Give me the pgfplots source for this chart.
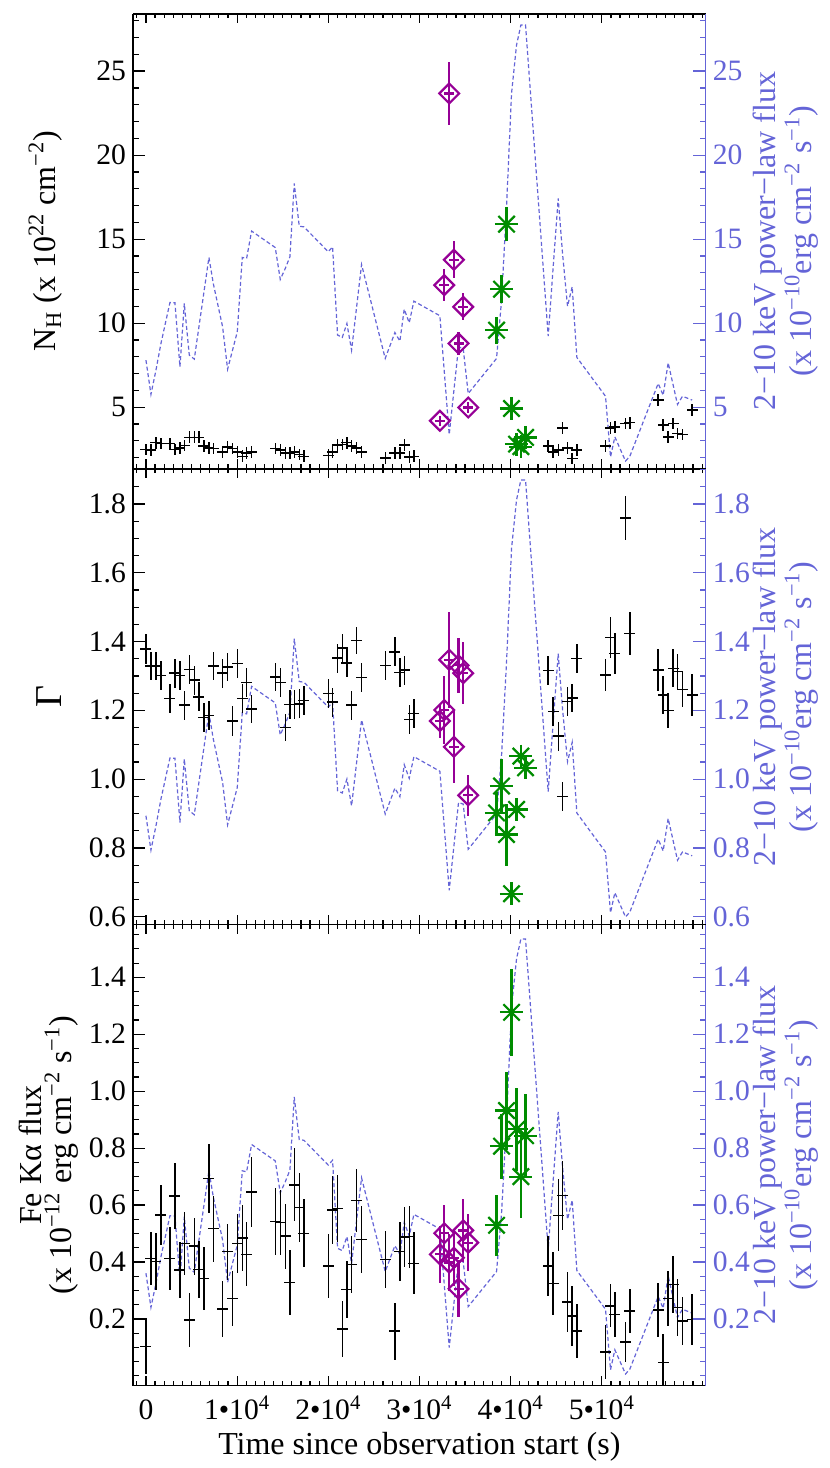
\documentclass[border=0pt]{standalone}
\usepackage{fontspec}
\setmainfont{Liberation Serif}
\usepackage{pgfplots}
\pgfplotsset{compat=1.18}
\usepackage{pgfplotstable}

\definecolor{fluxblue}{RGB}{100,100,215}
\definecolor{purp}{RGB}{150,0,150}
\definecolor{grn}{RGB}{0,140,0}

\newcommand{\tickfont}{\fontsize{14.8}{17}\selectfont}
\newcommand{\labfont}{\fontsize{16}{15}\selectfont}

% ---------------- data ----------------
\pgfplotstableread{
t f
0 7.80
548 5.76
1097 7.20
1645 8.79
2632 11.23
3180 11.21
3729 7.40
4204 11.17
4752 8.10
5300 7.86
6908 13.91
7384 12.36
8407 9.78
8955 7.26
10015 9.48
10564 13.91
11039 13.85
11587 15.48
14182 14.50
14730 12.60
15278 13.25
15790 13.95
16265 18.31
16813 15.77
17325 15.73
19993 14.25
20468 14.54
21017 9.29
21528 9.15
22040 9.98
22552 8.39
23648 13.49
26243 7.90
27303 9.44
27852 8.93
28327 10.83
28875 10.02
29387 11.31
32238 10.44
33261 3.37
34284 8.59
34796 8.49
35344 5.81
38453 7.90
39001 11.37
39548 16.92
40096 23.67
40644 26.55
41121 27.74
41632 27.74
44117 9.23
44665 13.35
45214 17.42
45689 14.15
46237 11.01
46749 12.16
47261 7.96
50404 5.65
50953 2.04
51428 3.23
52598 1.79
53073 2.08
56180 6.41
56726 5.71
57275 7.64
58298 5.16
58846 5.65
59906 5.42
}\fluxtab

\pgfplotstableread{
t y
0 2.48
548 2.44
1097 2.88
1645 2.84
2632 2.84
3180 2.48
3729 2.58
4204 2.72
4752 3.21
5300 3.21
5812 3.21
6360 2.68
6908 2.58
7384 2.54
8407 2.34
8955 2.64
9503 2.54
10015 2.34
10564 2.08
11039 2.28
11587 2.34
14182 2.54
14730 2.44
15278 2.28
15790 2.28
16265 2.34
16813 2.18
17325 2.08
19993 2.14
20468 2.32
21017 2.74
21528 2.78
22040 2.88
22552 2.68
23100 2.58
23648 2.34
26243 1.98
27303 2.28
27852 2.28
28327 2.74
28875 2.04
29387 2.08
44117 2.68
44665 2.34
45214 2.44
45689 3.77
46237 2.58
46749 1.94
47261 2.44
50404 2.70
50953 3.77
51428 3.83
52598 4.03
53073 4.07
56180 5.42
56726 3.93
57275 3.23
57823 4.03
58298 3.43
58846 3.37
59906 4.82
}\nhblack

\pgfplotstableread{
t y ey
32238 4.19 0.3
32713 12.26 0.96
33261 23.67 1.9
33773 13.77 1.1
34284 8.79 0.7
34796 10.97 0.8
35344 4.98 0.3
}\nhpurp

\pgfplotstableread{
t y ey
38453 9.58 0.8
39001 12.02 0.85
39548 15.89 1.0
40096 4.92 0.3
40644 2.80 0.3
41121 2.65 0.3
41632 3.20 0.3
}\nhgreen

\pgfplotstableread{
t y ey
0 1.378 .043
548 1.329 .042
1097 1.329 .042
1645 1.302 .042
2632 1.235 .042
3180 1.308 .042
3729 1.302 .042
4204 1.215 .042
4752 1.319 .042
5300 1.288 .042
5812 1.239 .042
6360 1.180 .042
6908 1.185 .042
7384 1.329 .042
8407 1.308 .042
8955 1.326 .042
9503 1.169 .044
10015 1.336 .042
10564 1.235 .042
11039 1.281 .042
11587 1.204 .042
14182 1.297 .042
14730 1.281 .042
15278 1.150 .040
15790 1.217 .042
16265 1.217 .042
16813 1.219 .042
17325 1.229 .042
19993 1.249 .042
20468 1.224 .042
21017 1.352 .042
21528 1.381 .042
22040 1.338 .042
22552 1.215 .042
23100 1.403 .040
23648 1.295 .042
26243 1.330 .042
27303 1.370 .042
27852 1.310 .042
28327 1.317 .042
28875 1.173 .042
29387 1.190 .042
44117 1.315 .042
44665 1.196 .042
45214 1.125 .042
45689 0.950 .042
46237 1.225 .042
46749 1.236 .042
47261 1.350 .042
50404 1.303 .047
50953 1.412 .060
51428 1.365 .060
52598 1.759 .063
53073 1.423 .062
56180 1.317 .060
56726 1.245 .055
57275 1.200 .050
57823 1.322 .055
58298 1.313 .050
58846 1.261 .050
59906 1.245 .060
}\gamblack

\pgfplotstableread{
t y ey
32238 1.169 0.05
32713 1.201 0.10
33261 1.347 0.14
33773 1.094 0.105
34284 1.331 0.08
34796 1.308 0.09
35344 0.953 0.06
}\gampurp

\pgfplotstableread{
t y ey
38453 0.902 0.06
39001 0.980 0.08
39548 0.839 0.09
40096 0.667 0.03
40644 0.912 0.03
41121 1.067 0.03
41632 1.033 0.03
}\gamgreen

\pgfplotstableread{
t y ey
0 0.104 0.098
548 0.413 0.093
1097 0.401 0.100
1645 0.565 0.106
2632 0.413 0.111
3180 0.632 0.117
3729 0.372 0.097
4204 0.465 0.110
4752 0.196 0.095
5300 0.456 0.100
5812 0.374 0.100
6360 0.342 0.111
6908 0.694 0.121
7384 0.517 0.116
8407 0.235 0.100
8955 0.436 0.099
9503 0.272 0.097
10015 0.465 0.103
10564 0.485 0.116
11039 0.427 0.113
11587 0.646 0.122
14182 0.542 0.117
14730 0.538 0.114
15278 0.491 0.114
15790 0.327 0.114
16265 0.671 0.128
16813 0.591 0.121
17325 0.501 0.120
19993 0.386 0.114
20468 0.583 0.120
21017 0.588 0.116
21528 0.165 0.099
22040 0.304 0.100
22552 0.392 0.100
23100 0.617 0.110
23648 0.480 0.117
26243 0.409 0.100
27303 0.157 0.100
27852 0.436 0.103
28327 0.488 0.106
28875 0.489 0.109
29387 0.395 0.109
44117 0.386 0.104
44665 0.324 0.110
45214 0.564 0.126
45689 0.634 0.120
46237 0.260 0.105
46749 0.211 0.105
47261 0.158 0.095
50404 0.084 0.094
50953 0.246 0.076
51428 0.216 0.080
52598 0.119 0.070
53073 0.228 0.076
56180 0.232 0.095
56726 0.047 0.100
57275 0.271 0.097
57823 0.322 0.100
58298 0.240 0.100
58846 0.193 0.085
59906 0.197 0.089
}\feblack

\pgfplotstableread{
t y ey
32238 0.427 0.10
32713 0.501 0.10
33261 0.398 0.10
33773 0.415 0.10
34284 0.306 0.10
34796 0.511 0.11
35344 0.468 0.10
}\fepurp

\pgfplotstableread{
t y ey
38453 0.529 0.108
39001 0.807 0.114
39548 0.932 0.137
40096 1.277 0.154
40644 0.866 0.146
41121 0.700 0.145
41632 0.844 0.146
}\fegreen

% ---------------- styles ----------------
\pgfplotsset{
  common/.style={scale only axis, width=286.5pt, xmin=-1425, xmax=61400,
    scaled x ticks=false, scaled y ticks=false,
    /pgf/number format/assume math mode=true,
    tick label style={font=\tickfont}, label style={font=\labfont}},
  xbox/.style={common, axis x line*=box, axis y line*=left, ytick=\empty,
    xtick={0,10000,20000,30000,40000,50000}, minor xtick={-1000,0,...,61000},
    tick align=inside, major tick length=4.7pt, minor tick length=2.2pt,
    axis line style={line width=0.7pt, black}, tick style={black, line width=0.6pt}},
  yleft/.style={common, axis x line=none, axis y line*=left, xtick=\empty,
    tick align=inside, major tick length=6.2pt, minor tick length=2.9pt,
    axis line style={line width=0.7pt, black}, tick style={black, line width=0.6pt},
    ylabel style={at={(axis description cs:#1,0.5)}, anchor=south, inner sep=0pt, align=center}},
  yright/.style={common, axis x line=none, axis y line*=right, xtick=\empty,
    tick align=inside, major tick length=6.2pt, minor tick length=3pt,
    axis line style={line width=0.7pt, fluxblue}, tick style={fluxblue, line width=0.6pt},
    yticklabel style={text=fluxblue},
    ylabel style={text=fluxblue, at={(axis description cs:1.082,0.5)}, anchor=north, inner sep=0pt, align=center},
    ylabel={2−10 keV power−law flux\\(x 10\textsuperscript{−10}erg cm\textsuperscript{−2} s\textsuperscript{−1})}},
  fluxax/.style={common, hide axis, ymin=1.33, ymax=28.4},
  fluxline/.style={fluxblue, line width=0.6pt, dash pattern=on 2pt off 1.3pt, mark=none},
  blk/.style={only marks, black, mark=*, mark size=0.1pt, mark options={draw=none, fill=none},
    error bars/.cd, x dir=both, x fixed=600,
    y dir=both, y explicit, error mark=none, error bar style={draw=black, line width=0.7pt}},
  prp/.style={only marks, purp, mark=square, mark size=3.5pt,
    mark options={rotate=45, line width=1.1pt, draw=purp, fill=none},
    error bars/.cd, x dir=both, x fixed=550, y dir=both, y explicit, error mark=none,
    error bar style={purp, line width=1.1pt}},
  grnA/.style={only marks, grn, mark=+, mark size=5.8pt, mark options={line width=1.1pt, draw=grn},
    error bars/.cd, x dir=both, x fixed=550, y dir=both, y explicit, error mark=none,
    error bar style={grn, line width=1.1pt}},
  grnB/.style={only marks, grn, mark=x, mark size=5.8pt, mark options={line width=1.1pt, draw=grn}},
}

\begin{document}
\begin{tikzpicture}
\path (0,0) rectangle (415pt,734pt);

% ================= TOP PANEL =================
\begin{axis}[fluxax, at={(66.5pt,727pt)}, anchor=north west, height=227.5pt]
\addplot[fluxline] table[x=t,y=f]{\fluxtab};
\end{axis}
\begin{axis}[xbox, at={(66.5pt,727pt)}, anchor=north west, height=227.5pt,
  ymin=1.33, ymax=28.4, xticklabels={}]
\addplot[blk] table[x=t,y=y,y error expr=0.35]{\nhblack};
\addplot[prp] table[x=t,y=y,y error=ey]{\nhpurp};
\addplot[grnA] table[x=t,y=y,y error=ey]{\nhgreen};
\addplot[grnB] table[x=t,y=y]{\nhgreen};
\end{axis}
\begin{axis}[yleft=-0.122, at={(66.5pt,727pt)}, anchor=north west, height=227.5pt,
  ymin=1.33, ymax=28.4, ytick={5,10,15,20,25}, minor ytick={2,...,28},
  ylabel={N\textsubscript{H} (x 10\textsuperscript{22} cm\textsuperscript{−2})}]
\end{axis}
\begin{axis}[yright, at={(66.5pt,727pt)}, anchor=north west, height=227.5pt,
  ymin=1.33, ymax=28.4, ytick={5,10,15,20,25}, minor ytick={2,...,28}]
\end{axis}

% ================= MIDDLE PANEL =================
\begin{axis}[fluxax, at={(66.5pt,499.5pt)}, anchor=north west, height=228pt]
\addplot[fluxline] table[x=t,y=f]{\fluxtab};
\end{axis}
\begin{axis}[xbox, at={(66.5pt,499.5pt)}, anchor=north west, height=228pt,
  ymin=0.577, ymax=1.902, xticklabels={}]
\addplot[blk] table[x=t,y=y,y error=ey]{\gamblack};
\addplot[prp] table[x=t,y=y,y error=ey]{\gampurp};
\addplot[grnA] table[x=t,y=y,y error=ey]{\gamgreen};
\addplot[grnB] table[x=t,y=y]{\gamgreen};
\end{axis}
\begin{axis}[yleft=-0.124, at={(66.5pt,499.5pt)}, anchor=north west, height=228pt,
  ymin=0.577, ymax=1.902, ytick={0.6,0.8,1.0,1.2,1.4,1.6,1.8},
  yticklabels={0.6,0.8,1.0,1.2,1.4,1.6,1.8}, minor ytick={0.6,0.65,...,1.91},
  ylabel={\fontsize{19}{19}\selectfont Γ}]
\end{axis}
\begin{axis}[yright, at={(66.5pt,499.5pt)}, anchor=north west, height=228pt,
  ymin=0.577, ymax=1.902, ytick={0.6,0.8,1.0,1.2,1.4,1.6,1.8},
  yticklabels={0.6,0.8,1.0,1.2,1.4,1.6,1.8}, minor ytick={0.6,0.65,...,1.91}]
\end{axis}

% ================= BOTTOM PANEL =================
\begin{axis}[fluxax, ymin=1.10, ymax=28.59, at={(66.5pt,271.5pt)}, anchor=north west, height=230.5pt]
\addplot[fluxline] table[x=t,y=f]{\fluxtab};
\end{axis}
\begin{axis}[xbox, at={(66.5pt,271.5pt)}, anchor=north west, height=230.5pt,
  ymin=-0.034, ymax=1.585,
  xticklabels={0,1•10\textsuperscript{4},2•10\textsuperscript{4},3•10\textsuperscript{4},4•10\textsuperscript{4},5•10\textsuperscript{4}},
  xticklabel style={anchor=base, yshift=-17pt},
  xlabel={Time since observation start (s)},
  xlabel style={at={(axis description cs:0.5,0)}, anchor=base, yshift=-34.5pt}]
\addplot[blk] table[x=t,y=y,y error=ey]{\feblack};
\addplot[prp] table[x=t,y=y,y error=ey]{\fepurp};
\addplot[grnA] table[x=t,y=y,y error=ey]{\fegreen};
\addplot[grnB] table[x=t,y=y]{\fegreen};
\end{axis}
\begin{axis}[yleft=-0.094, at={(66.5pt,271.5pt)}, anchor=north west, height=230.5pt,
  ymin=-0.034, ymax=1.585, ytick={0.2,0.4,0.6,0.8,1.0,1.2,1.4},
  yticklabels={0.2,0.4,0.6,0.8,1.0,1.2,1.4}, minor ytick={0,0.05,...,1.56},
  ylabel={Fe Kα flux\\(x 10\textsuperscript{−12} erg cm\textsuperscript{−2} s\textsuperscript{−1})}]
\end{axis}
\begin{axis}[yright, at={(66.5pt,271.5pt)}, anchor=north west, height=230.5pt,
  ymin=-0.034, ymax=1.585, ytick={0.2,0.4,0.6,0.8,1.0,1.2,1.4},
  yticklabels={0.2,0.4,0.6,0.8,1.0,1.2,1.4}, minor ytick={0,0.05,...,1.56}]
\end{axis}
\end{tikzpicture}
\end{document}
